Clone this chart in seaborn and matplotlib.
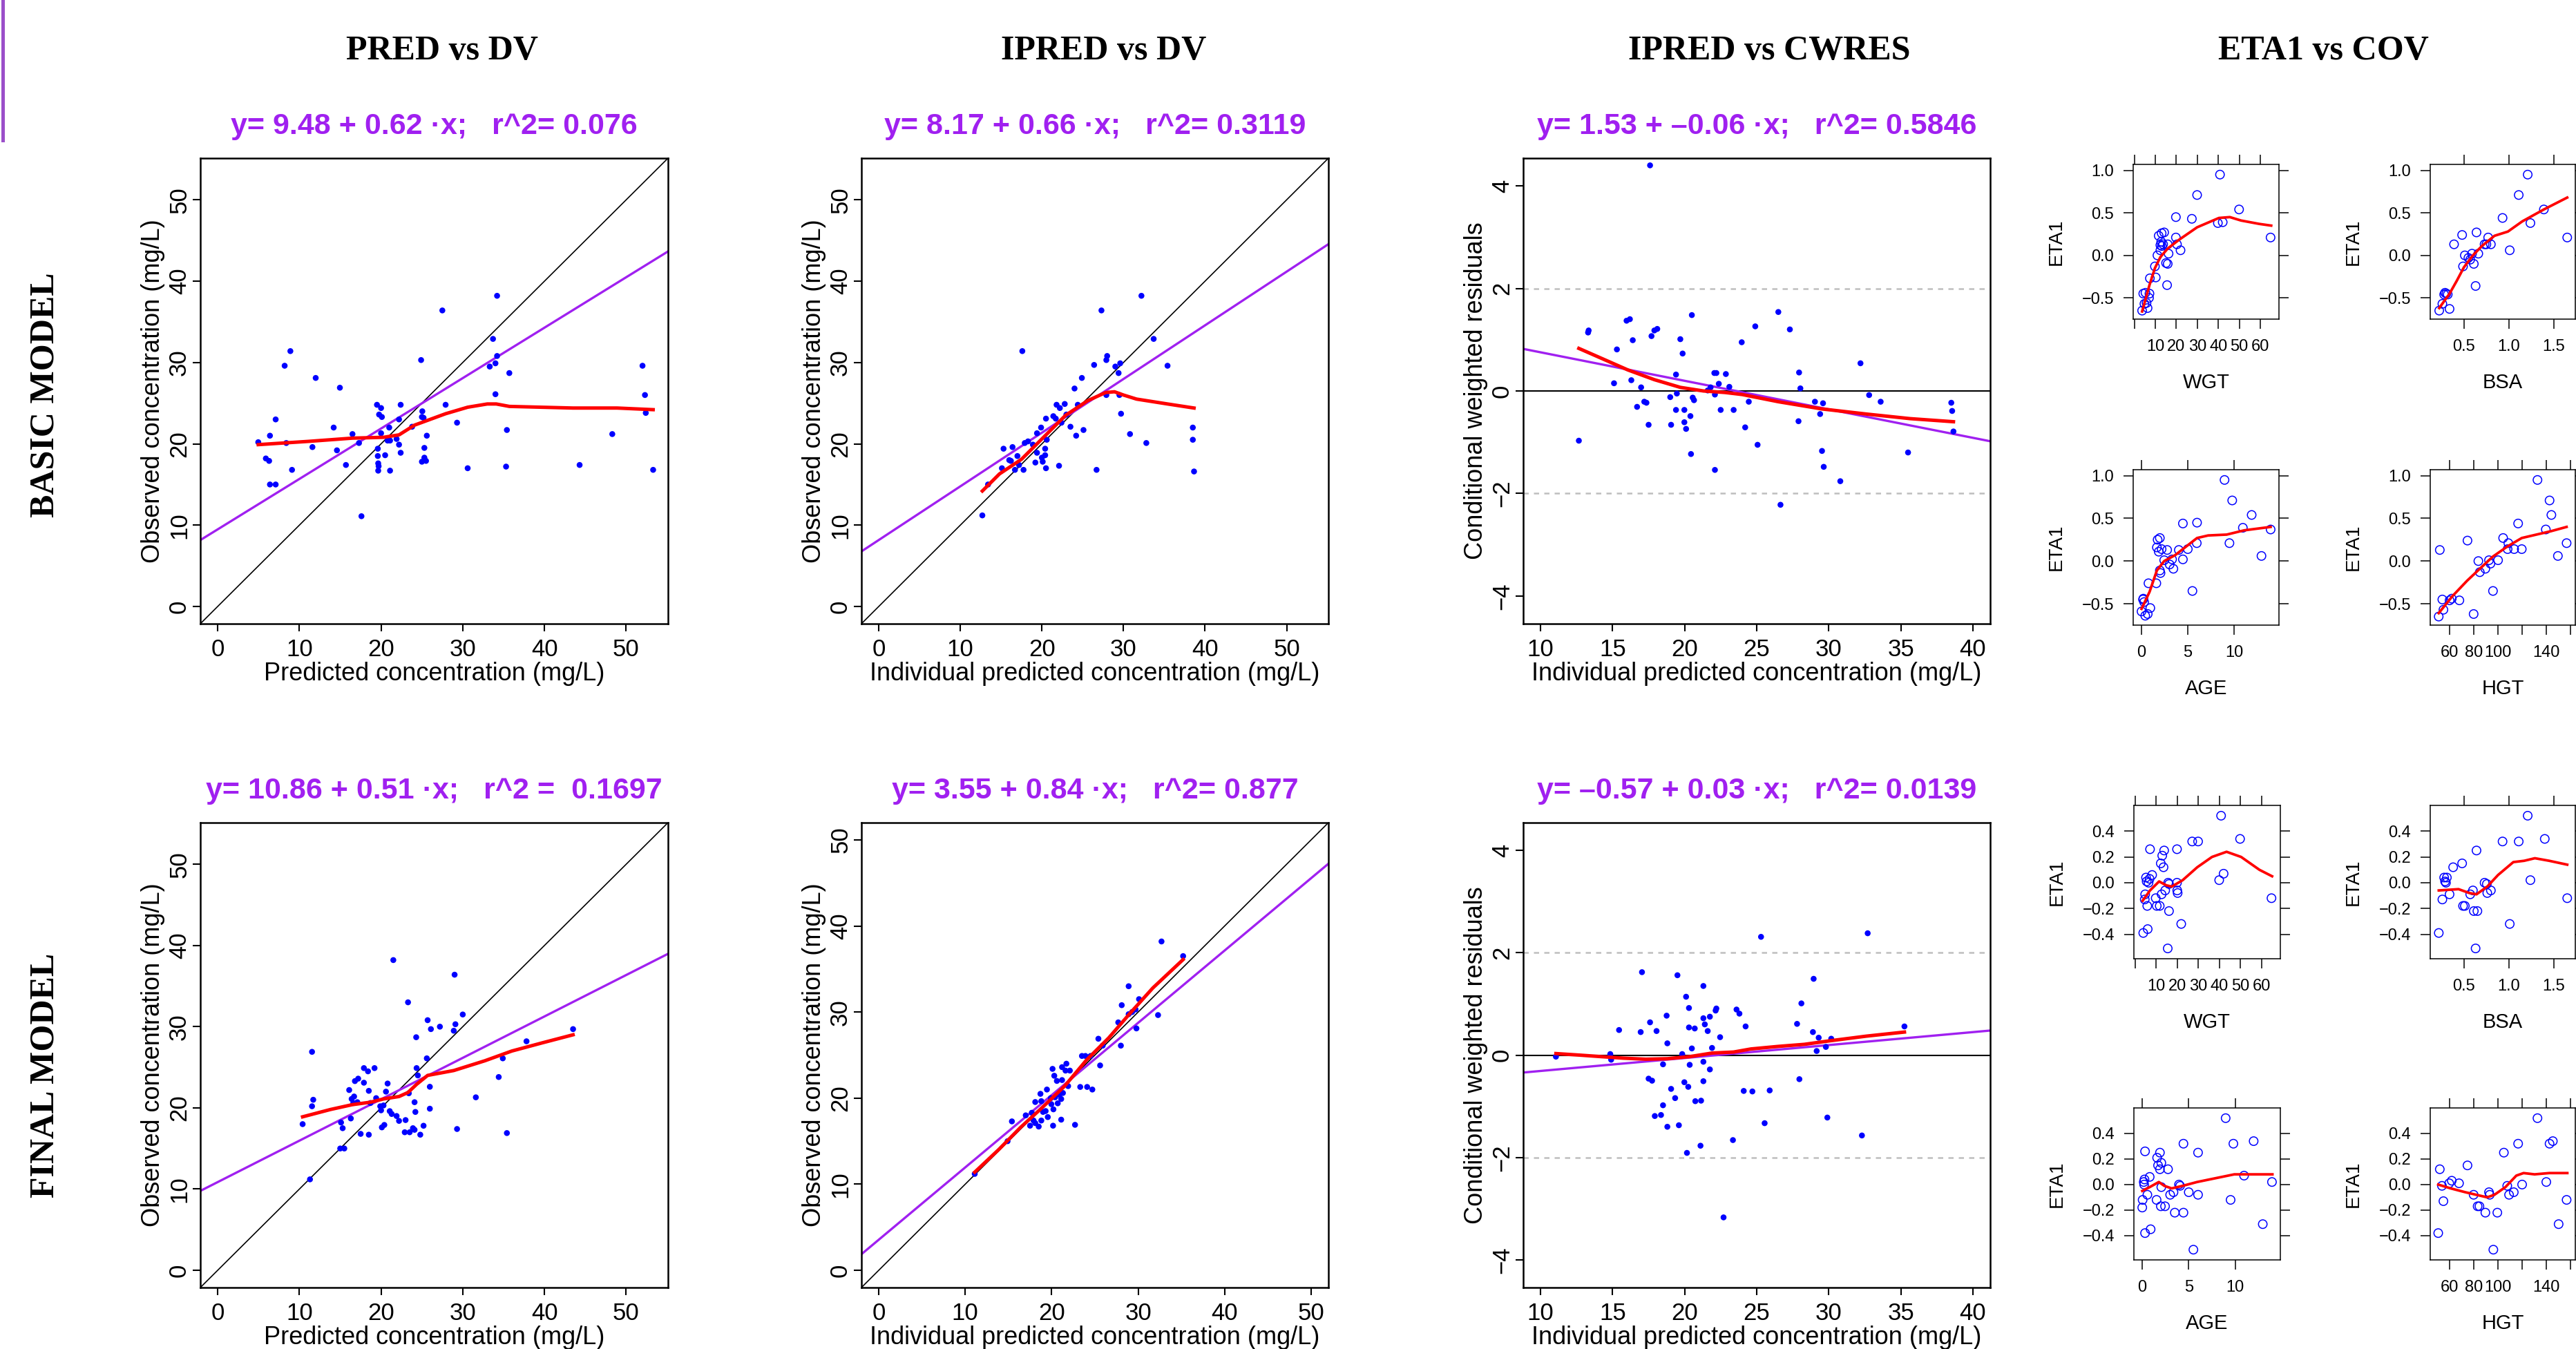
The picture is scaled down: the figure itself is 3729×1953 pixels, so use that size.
import matplotlib
matplotlib.use("Agg")
import matplotlib.pyplot as plt
from matplotlib.lines import Line2D
import seaborn as sns

# ---------------- DATA ----------------
col_titles = ["PRED vs DV", "IPRED vs DV", "IPRED vs CWRES", "ETA1 vs COV"]
row_titles = ["BASIC MODEL", "FINAL MODEL"]
subtitles = [
    "y= 9.48 + 0.62 \u00b7x;   r^2= 0.076",
    "y= 8.17 + 0.66 \u00b7x;   r^2= 0.3119",
    "y= 1.53 + \u20130.06 \u00b7x;   r^2= 0.5846",
    "y= 10.86 + 0.51 \u00b7x;   r^2 =  0.1697",
    "y= 3.55 + 0.84 \u00b7x;   r^2= 0.877",
    "y= \u20130.57 + 0.03 \u00b7x;   r^2= 0.0139",
]
# regression lines as drawn (intercept, slope)
reg_intercepts = [9.48, 8.17, 1.31, 10.86, 3.55, -0.563]
reg_slopes = [0.62, 0.66, -0.0556, 0.51, 0.84, 0.0253]

pred_dv_basic = [(4.97,20.2),(5.9,18.2),(6.3,17.9),(6.4,21.0),(6.4,15.0),(7.1,15.0),(7.1,23.0),(8.2,29.6),(8.4,20.1),(8.9,31.4),
    (9.1,16.8),(11.6,19.6),(12.0,28.1),(14.2,22.0),(14.6,19.2),(14.96,26.9),(15.7,17.4),(16.5,21.2),(17.3,20.1),(17.6,11.1),
    (19.5,24.8),(19.6,19.4),(19.6,18.5),(19.65,17.6),(19.7,17.25),(19.65,16.7),(19.76,23.6),(20.0,24.4),(20.1,23.3),(20.0,21.3),
    (20.5,18.6),(20.8,20.4),(21.0,22.0),(21.1,20.4),(21.1,16.7),(21.9,20.6),(22.2,23.0),(22.2,19.9),(22.4,24.8),(22.4,18.9),
    (23.8,22.1),(24.9,30.3),(25.05,24.0),(25.0,23.3),(25.2,23.2),(25.3,19.5),(25.3,18.3),(25.5,17.9),(25.0,17.8),(25.6,21.0),
    (27.5,36.4),(27.9,24.8),(29.3,22.6),(30.6,17.0),(33.3,29.5),(33.7,32.9),(34.0,29.9),(34.2,30.8),(34.2,38.2),(34.0,26.1),
    (35.4,21.7),(35.3,17.2),(35.7,28.7),(44.3,17.4),(48.3,21.2),(52.0,29.6),(52.3,26.0),(52.4,23.8),(53.3,16.8)]
pred_dv_basic_smooth = [(4.97,19.9),(11.1,20.3),(16.5,20.7),(20.3,20.8),(22.2,21.1),(24.1,22.3),(27.9,23.7),(30.6,24.5),
    (33.0,24.9),(34.1,24.9),(35.7,24.6),(43.5,24.4),(48.9,24.4),(53.3,24.2)]

ipred_dv_basic = [(12.7,11.2),(13.4,15.0),(15.1,17.0),(15.3,19.4),(16.0,18.0),(16.2,17.9),(16.4,19.6),(16.7,16.8),(17.0,18.5),(17.2,17.4),
    (17.6,31.4),(17.75,16.8),(17.9,20.1),(18.3,20.3),(18.9,19.9),(19.2,17.7),(19.4,21.3),(19.4,18.9),(19.9,22.0),(20.0,18.3),
    (20.1,17.8),(20.4,19.4),(20.4,18.6),(20.5,23.1),(20.5,17.0),(20.6,20.5),(21.4,23.4),(21.7,23.1),(21.8,24.8),(22.1,17.3),
    (22.2,24.4),(22.4,22.6),(22.8,24.9),(23.0,23.6),(23.5,22.1),(24.0,26.8),(24.2,21.0),(24.4,24.8),(24.9,28.1),(25.1,21.7),
    (26.4,29.7),(26.7,16.8),(27.3,36.4),(27.9,26.0),(27.9,30.3),(28.0,30.8),(29.0,29.5),(29.4,28.7),(29.5,26.0),(29.6,29.9),
    (29.7,23.7),(30.8,21.2),(32.2,38.2),(32.8,20.1),(33.7,32.9),(35.4,29.6),(38.5,22.0),(38.5,20.5),(38.65,16.6)]
ipred_dv_basic_smooth = [(12.7,14.2),(14.8,16.3),(17.5,18.1),(20.2,20.8),(22.9,23.5),(25.6,25.3),(27.8,26.3),(28.9,26.4),
    (30.0,26.0),(31.6,25.5),(35.4,24.9),(38.65,24.4)]

ipred_cwres_basic = [(17.6,4.40),(12.66,-0.97),(13.3,1.14),(13.34,1.18),(15.1,0.15),(15.3,0.81),(15.97,1.37),(16.2,1.40),(16.3,0.21),(16.4,0.99),
    (16.7,-0.31),(16.98,0.07),(17.2,-0.21),(17.35,-0.23),(17.5,-0.66),(17.7,1.07),(17.9,1.18),(18.1,1.21),(19.0,-0.12),(19.06,-0.66),
    (19.4,0.32),(19.4,-0.37),(19.46,-0.05),(19.7,1.01),(19.86,0.73),(19.98,-0.37),(19.98,-0.61),(20.1,-0.74),(20.4,-0.49),(20.44,-1.23),
    (20.5,1.48),(20.56,-0.13),(20.65,-0.18),(21.6,0.01),(21.8,0.07),(22.06,0.35),(22.1,-0.07),(22.1,-1.54),(22.2,0.35),(22.37,0.14),
    (22.5,-0.37),(22.86,0.33),(23.1,0.08),(23.4,-0.37),(23.96,0.95),(24.2,-0.71),(24.45,-0.21),(24.9,1.26),(25.06,-1.05),(26.5,1.54),
    (26.65,-2.22),(27.3,1.2),(27.9,-0.59),(27.94,0.36),(28.03,0.05),(29.04,-0.21),(29.4,-0.45),(29.53,-1.17),(29.6,-0.24),(29.65,-1.48),
    (30.8,-1.76),(32.2,0.54),(32.8,-0.08),(33.6,-0.21),(35.5,-1.20),(38.5,-0.23),(38.56,-0.39),(38.65,-0.79)]
ipred_cwres_basic_smooth = [(12.66,0.83),(14.2,0.64),(16.06,0.41),(17.9,0.22),(19.7,0.07),(21.3,0.0),(22.8,-0.03),(24.0,-0.07),
    (26.5,-0.21),(29.5,-0.35),(32.6,-0.45),(35.65,-0.54),(38.65,-0.60)]

pred_dv_final = [(10.4,18.0),(11.3,11.2),(11.55,26.9),(11.55,20.2),(11.7,21.0),(15.1,18.2),(15.3,17.5),(15.0,15.0),(15.5,15.0),(16.1,22.2),
    (16.3,18.7),(16.4,21.1),(16.6,20.6),(16.7,21.4),(16.8,23.3),(17.1,20.7),(17.2,23.6),(17.5,16.8),(17.9,24.9),(17.9,23.1),
    (18.4,24.5),(18.5,22.1),(18.5,16.7),(18.7,20.6),(19.2,24.9),(19.4,21.2),(19.9,20.2),(20.0,19.7),(20.1,17.6),(20.3,20.3),
    (20.4,17.9),(20.6,22.0),(20.8,23.0),(21.06,19.6),(21.3,19.25),(21.5,38.2),(21.9,19.0),(22.2,18.4),(23.0,18.5),(22.9,17.0),
    (23.3,33.0),(23.4,21.8),(23.5,17.0),(23.9,17.5),(24.1,20.7),(24.1,17.3),(24.2,19.5),(24.3,28.7),(24.35,24.9),(24.5,24.0),
    (24.8,16.7),(25.2,17.8),(25.6,26.1),(25.7,30.8),(25.97,22.6),(25.97,19.9),(26.1,29.7),(27.2,30.0),(28.9,29.5),(29.1,30.3),
    (29.0,36.4),(29.3,17.4),(30.0,31.5),(31.6,21.3),(34.4,23.8),(34.9,26.1),(35.4,16.9),(37.8,28.2),(43.5,29.7)]
pred_dv_final_smooth = [(10.4,18.9),(13.8,19.8),(16.5,20.4),(18.7,20.7),(20.3,21.1),(22.2,21.4),(23.3,21.9),(24.35,22.9),
    (25.7,24.0),(27.3,24.3),(28.9,24.6),(32.7,25.8),(36.0,27.0),(39.7,28.0),(43.5,29.0)]

ipred_dv_final = [(11.1,11.2),(14.9,15.0),(15.4,17.3),(17.0,18.0),(17.5,16.8),(17.7,18.3),(17.9,17.4),(18.1,19.55),(18.1,17.1),(18.5,16.7),
    (18.7,20.5),(18.8,19.65),(18.8,17.4),(19.0,18.4),(19.3,18.5),(19.45,21.0),(19.55,17.8),(19.9,20.0),(19.96,19.3),(20.1,23.4),
    (20.16,16.8),(20.2,18.7),(20.3,22.6),(20.4,20.1),(20.6,22.0),(20.7,19.4),(20.9,20.4),(21.1,19.9),(21.1,17.5),(21.2,22.1),
    (21.2,23.6),(21.3,20.6),(21.6,23.2),(21.7,24.0),(21.9,21.4),(22.1,23.2),(22.7,16.9),(23.3,21.3),(23.5,24.9),(23.9,24.9),
    (24.1,21.3),(24.5,24.9),(24.7,21.0),(25.4,26.9),(25.6,23.8),(25.9,26.1),(27.7,28.8),(28.0,26.1),(28.1,30.8),(28.9,29.75),
    (28.9,33.0),(29.3,30.0),(29.7,30.3),(29.8,28.1),(30.1,31.5),(32.3,29.65),(32.7,38.2),(35.2,36.5)]
ipred_dv_final_smooth = [(11.1,11.4),(13.85,14.0),(16.4,16.6),(18.9,18.9),(21.5,21.4),(24.0,24.4),(26.6,27.0),(29.1,29.9),
    (31.7,32.8),(35.2,36.1)]

ipred_cwres_final = [(11.07,-0.03),(14.84,0.02),(14.9,-0.09),(15.45,0.49),(16.95,0.45),(17.04,1.62),(17.5,-0.46),(17.6,0.64),(17.74,-0.50),(17.93,-1.19),
    (18.05,0.47),(18.36,-1.17),(18.5,-0.18),(18.5,-0.98),(18.75,0.77),(18.8,0.23),(18.8,-1.40),(19.06,-0.66),(19.34,-0.84),(19.5,1.56),
    (19.6,-1.37),(19.83,0.02),(19.98,-0.53),(20.1,1.14),(20.16,-1.91),(20.25,-0.62),(20.3,0.92),(20.3,0.54),(20.35,-0.19),(20.5,0.13),
    (20.7,0.52),(20.74,-0.90),(21.14,-0.89),(21.1,-1.77),(21.3,1.35),(21.3,0.72),(21.3,-0.13),(21.3,-0.51),(21.4,0.60),(21.6,0.47),
    (21.75,0.75),(21.75,-0.28),(21.9,0.14),(22.15,0.87),(22.2,0.91),(22.46,0.35),(22.7,-3.17),(23.35,-1.66),(23.6,0.89),(23.8,0.81),
    (24.1,-0.70),(24.23,0.56),(24.7,-0.71),(25.3,2.31),(25.55,-1.33),(25.9,-0.69),(27.8,0.61),(27.96,-0.47),(28.1,1.01),(28.9,0.45),
    (28.95,1.49),(29.16,0.08),(29.3,0.34),(29.8,0.16),(29.9,-1.22),(30.17,0.32),(32.3,-1.57),(32.7,2.38),(35.25,0.56)]
ipred_cwres_final_smooth = [(11.07,0.03),(12.7,0.0),(14.2,-0.03),(15.75,-0.06),(17.3,-0.08),(18.8,-0.07),(20.35,-0.03),(21.9,0.04),
    (23.4,0.06),(24.6,0.12),(26.5,0.17),(28.3,0.21),(30.1,0.28),(32.6,0.37),(35.25,0.45)]

# ETA1 vs covariates, basic model
eta_wgt_basic = [(3.7,-0.65),(4.8,-0.57),(4.25,-0.45),(5.3,-0.44),(5.8,-0.56),(6.3,-0.62),(7.0,-0.50),(7.2,-0.45),(7.4,-0.27),(9.8,-0.13),
    (10.2,-0.26),(11.0,0.0),(11.6,0.23),(12.4,0.12),(12.8,0.16),(13.0,0.26),(13.1,0.11),(13.7,0.13),(14.2,0.27),(15.1,-0.09),
    (15.6,-0.35),(15.9,0.13),(15.9,-0.10),(16.3,0.02),(12.4,0.06),(19.8,0.45),(19.8,0.21),(20.3,0.13),(22.0,0.06),(27.4,0.43),
    (29.9,0.71),(39.8,0.38),(40.8,0.95),(42.1,0.39),(49.9,0.54),(64.9,0.21)]
eta_wgt_basic_smooth = [(3.7,-0.66),(7.2,-0.35),(9.8,-0.15),(12.4,-0.02),(15.9,0.08),(21.1,0.18),(29.9,0.33),(40.3,0.44),
    (45.5,0.45),(50.8,0.41),(59.5,0.37),(65.2,0.35)]
eta_bsa_basic = [(0.225,-0.65),(0.26,-0.57),(0.28,-0.46),(0.29,-0.44),(0.305,-0.45),(0.32,-0.46),(0.34,-0.63),(0.39,0.13),(0.48,0.24),(0.49,-0.13),
    (0.51,0.0),(0.55,-0.03),(0.57,-0.05),(0.59,0.02),(0.61,-0.10),(0.63,-0.36),(0.64,0.27),(0.66,0.02),(0.73,0.13),(0.75,0.13),
    (0.77,0.21),(0.80,0.13),(0.93,0.44),(1.01,0.06),(1.11,0.71),(1.21,0.95),(1.24,0.38),(1.39,0.54),(1.65,0.21)]
eta_bsa_basic_smooth = [(0.225,-0.62),(0.34,-0.45),(0.42,-0.30),(0.50,-0.14),(0.60,0.0),(0.70,0.11),(0.84,0.23),(0.99,0.28),
    (1.15,0.40),(1.39,0.54),(1.65,0.68)]
eta_age_basic = [(0.0,-0.59),(0.16,-0.45),(0.28,-0.48),(0.4,-0.64),(0.2,-0.44),(0.67,-0.62),(0.75,-0.26),(0.95,-0.55),(1.6,-0.26),(1.66,0.16),
    (1.74,0.25),(1.86,0.11),(1.98,0.27),(1.98,-0.11),(2.05,-0.14),(2.17,0.14),(2.45,0.01),(2.77,0.13),(3.04,-0.04),(3.44,-0.09),
    (3.3,0.02),(4.03,0.13),(4.47,0.44),(4.47,0.02),(5.0,0.14),(5.5,-0.35),(5.97,0.21),(6.0,0.45),(8.97,0.95),(9.5,0.21),
    (9.8,0.71),(10.95,0.39),(11.9,0.54),(12.96,0.06),(13.95,0.37)]
eta_age_basic_smooth = [(0.0,-0.56),(0.87,-0.36),(1.66,-0.11),(2.45,0.0),(3.64,0.07),(4.82,0.17),(6.0,0.27),(7.2,0.30),
    (9.2,0.31),(11.1,0.36),(13.95,0.40)]
eta_hgt_basic = [(51,-0.65),(51.9,0.13),(54,-0.45),(54.9,-0.57),(60,-0.46),(61.8,-0.44),(68.1,-0.46),(74.8,0.24),(79.9,-0.62),(83.8,0.0),
    (85,-0.13),(89.6,-0.09),(92.6,0.01),(93.8,-0.03),(95.9,-0.35),(100.1,0.01),(104.3,0.27),(108.6,0.21),(108,0.14),(113.4,0.14),
    (116.7,0.44),(119.7,0.14),(132.7,0.95),(139.6,0.37),(142.7,0.71),(144.2,0.54),(149.6,0.06),(156.8,0.21)]
eta_hgt_basic_smooth = [(51,-0.61),(62.4,-0.41),(74.5,-0.23),(83.5,-0.11),(95.6,0.05),(107.7,0.17),(119.7,0.27),(131.8,0.31),
    (143.9,0.35),(156.8,0.40)]

# ETA1 vs covariates, final model
eta_wgt_final = [(3.9,-0.39),(6.0,-0.36),(4.6,-0.13),(4.8,-0.09),(5.2,0.04),(5.5,0.01),(5.8,-0.18),(6.4,0.0),(6.9,0.03),(7.1,0.26),
    (8.1,0.06),(9.8,-0.12),(10.3,-0.18),(11.7,-0.18),(12.2,0.15),(12.6,-0.09),(12.9,0.21),(13.5,0.12),(13.8,0.25),(14.3,-0.06),
    (15.5,-0.51),(15.7,0.0),(16.1,-0.22),(16.1,-0.01),(19.9,0.26),(19.9,0.0),(20.0,-0.06),(20.2,-0.08),(21.9,-0.32),(27.1,0.32),
    (29.9,0.32),(39.9,0.02),(40.8,0.52),(42.0,0.07),(49.8,0.34),(64.7,-0.12)]
eta_wgt_final_smooth = [(3.6,-0.14),(7.1,-0.06),(11.4,0.01),(14.8,-0.02),(17.4,-0.03),(22.6,0.02),(29.5,0.12),(36.5,0.20),
    (43.4,0.24),(50.3,0.20),(59.0,0.10),(65.0,0.05)]
eta_bsa_final = [(0.22,-0.39),(0.26,-0.13),(0.28,0.04),(0.29,0.01),(0.30,0.0),(0.31,0.04),(0.34,-0.09),(0.38,0.12),(0.48,0.15),(0.49,-0.18),
    (0.51,-0.18),(0.57,-0.09),(0.60,-0.06),(0.61,-0.22),(0.63,-0.51),(0.64,0.25),(0.65,-0.22),(0.73,0.0),(0.755,-0.01),(0.76,-0.08),
    (0.80,-0.06),(0.93,0.32),(1.01,-0.32),(1.11,0.32),(1.21,0.52),(1.24,0.02),(1.40,0.34),(1.65,-0.12)]
eta_bsa_final_smooth = [(0.22,-0.06),(0.44,-0.05),(0.56,-0.08),(0.64,-0.09),(0.76,-0.03),(0.88,0.06),(1.05,0.16),(1.17,0.17),
    (1.29,0.19),(1.45,0.17),(1.65,0.14)]
eta_age_final = [(0.0,-0.18),(0.04,-0.12),(0.16,0.02),(0.2,0.0),(0.24,0.04),(0.3,0.26),(0.3,-0.38),(0.55,-0.08),(0.8,0.06),(0.9,-0.35),
    (1.54,-0.12),(1.6,0.21),(1.7,0.15),(1.9,0.25),(1.9,0.12),(2.0,-0.17),(2.05,-0.02),(2.05,0.17),(2.45,-0.17),(2.77,0.12),
    (3.0,-0.08),(3.36,-0.06),(3.5,-0.22),(3.95,0.0),(4.07,-0.01),(4.43,0.32),(4.43,-0.22),(5.0,-0.06),(5.5,-0.51),(6.0,0.25),
    (6.0,-0.08),(8.97,0.52),(9.5,-0.12),(9.8,0.32),(10.95,0.07),(11.98,0.34),(12.96,-0.31),(13.95,0.02)]
eta_age_final_smooth = [(0.0,-0.05),(0.8,-0.02),(1.78,0.02),(2.37,-0.01),(3.16,-0.03),(4.35,-0.01),(5.9,0.02),(7.9,0.05),
    (9.9,0.08),(11.86,0.08),(14.0,0.08)]
eta_hgt_final = [(50.6,-0.38),(51.9,0.12),(53.7,-0.01),(54.9,-0.13),(59.7,0.01),(61.8,0.03),(67.8,0.01),(74.8,0.15),(79.9,-0.08),(83.2,-0.17),
    (84.7,-0.17),(89.6,-0.22),(92.6,-0.06),(93.2,-0.08),(96.2,-0.51),(99.5,-0.22),(104.9,0.25),(107.7,-0.01),(109.2,-0.08),(113.1,-0.06),
    (116.7,0.32),(120,0.0),(132.7,0.52),(140,0.02),(142.7,0.32),(145.4,0.34),(150.2,-0.31),(156.8,-0.12)]
eta_hgt_final_smooth = [(50.6,0.0),(60.9,-0.03),(73.0,-0.06),(82.0,-0.08),(91.1,-0.10),(97.1,-0.08),(106.2,-0.02),(115.2,0.07),
    (121.2,0.09),(130.3,0.08),(142.4,0.09),(157.4,0.09)]

# ---------------- STYLE ----------------
plt.rcParams["font.family"] = ["Liberation Sans", "DejaVu Sans"]
plt.rcParams["axes.unicode_minus"] = True
SERIF = ["Liberation Serif", "DejaVu Serif"]
BLUE, RED, PURPLE, GREY = "#0000FF", "#FF0000", "#A020F0", "#BEBEBE"

W, H = 3729, 1953
fig = plt.figure(figsize=(W / 100, H / 100), dpi=100)


def px_axes(l, t, r, b):
    return fig.add_axes([l / W, 1 - b / H, (r - l) / W, (b - t) / H])


def split(pairs):
    return [p[0] for p in pairs], [p[1] for p in pairs]


def main_panel(box, pts, smooth, k, lim_x, lim_y, xt, yt, xlabel, ylabel, identity, resid):
    ax = px_axes(*box)
    if resid:
        for v in (-2, 2):
            ax.axhline(v, color=GREY, ls=(0, (3, 3)), lw=1.8, zorder=1)
        ax.axhline(0, color="black", lw=1.5, zorder=1)
    if identity:
        ax.axline((0, 0), slope=1, color="black", lw=1.2, zorder=1)
    ax.axline((0, reg_intercepts[k]), slope=reg_slopes[k], color=PURPLE, lw=2.4, zorder=2)
    x, y = split(pts)
    sns.scatterplot(x=x, y=y, ax=ax, color=BLUE, s=38, edgecolor="none", linewidth=0, zorder=3)
    sx, sy = split(smooth)
    sns.lineplot(x=sx, y=sy, ax=ax, color=RED, lw=3.6, sort=False, estimator=None, zorder=4)
    ax.set_xlim(*lim_x)
    ax.set_ylim(*lim_y)
    ax.set_xticks(xt)
    ax.set_yticks(yt)
    ax.tick_params(direction="out", length=8, width=1.5, labelsize=25, colors="black")
    ax.tick_params(axis="x", pad=7)
    ax.tick_params(axis="y", pad=2, labelrotation=90)
    for lab in ax.get_yticklabels():
        lab.set_va("center")
    ax.set_xlabel(xlabel, fontsize=26, labelpad=0.5)
    ax.set_ylabel(ylabel, fontsize=26, labelpad=3)
    for s in ax.spines.values():
        s.set_linewidth(1.8)
        s.set_color("black")
    cx = (box[0] + box[2]) / 2
    cy = box[1] - 46
    fig.text(cx / W, 1 - cy / H, subtitles[k], color=PURPLE, fontsize=31,
             fontweight="bold", ha="center", va="center")
    return ax


def eta_panel(box, pts, smooth, lim_x, lim_y, xt, xtl, yt, ytl, xlabel):
    ax = px_axes(*box)
    x, y = split(pts)
    sns.scatterplot(x=x, y=y, ax=ax, s=80, fc="none", ec=BLUE, linewidth=1.1, zorder=3)
    sx, sy = split(smooth)
    sns.lineplot(x=sx, y=sy, ax=ax, color=RED, lw=2.7, sort=False, estimator=None, zorder=4)
    ax.set_xlim(*lim_x)
    ax.set_ylim(*lim_y)
    ax.set_xticks(xt)
    ax.set_xticklabels(xtl)
    ax.set_yticks(yt)
    ax.set_yticklabels(ytl)
    ax.tick_params(direction="out", length=10, width=1.1, labelsize=17,
                   top=True, right=True, labeltop=False, labelright=False, colors="black")
    ax.tick_params(axis="x", pad=11)
    ax.tick_params(axis="y", pad=10)
    ax.set_xlabel(xlabel, fontsize=21, labelpad=19)
    ax.set_ylabel("ETA1", fontsize=20, labelpad=17)
    for s in ax.spines.values():
        s.set_linewidth(1.1)
        s.set_color("black")
    return ax


# ---------------- MAIN PANELS ----------------
conc_ticks = [0, 10, 20, 30, 40, 50]
res_xt = [10, 15, 20, 25, 30, 35, 40]
res_yt = [-4, -2, 0, 2, 4]
rows = [(229, 903), (1191, 1864)]
cols = [(290, 967), (1247, 1923), (2205, 2881)]
obs_lab = "Observed concentration (mg/L)"
pred_lab = "Predicted concentration (mg/L)"
ipred_lab = "Individual predicted concentration (mg/L)"
cw_lab = "Conditional weighted residuals"

sets = [
    [(pred_dv_basic, pred_dv_basic_smooth), (ipred_dv_basic, ipred_dv_basic_smooth), (ipred_cwres_basic, ipred_cwres_basic_smooth)],
    [(pred_dv_final, pred_dv_final_smooth), (ipred_dv_final, ipred_dv_final_smooth), (ipred_cwres_final, ipred_cwres_final_smooth)],
]
lims = [[(-2.12, 55.12), (-2.12, 55.12)], [(-2.12, 55.12), (-2.0, 52.0)]]
for r, (t, b) in enumerate(rows):
    for c, (l, rr) in enumerate(cols):
        pts, sm = sets[r][c]
        k = r * 3 + c
        box = (l, t, rr, b)
        if c < 2:
            lm = lims[r][c]
            main_panel(box, pts, sm, k, lm, lm, conc_ticks, conc_ticks,
                       pred_lab if c == 0 else ipred_lab, obs_lab, True, False)
        else:
            main_panel(box, pts, sm, k, (8.8, 41.2), (-4.54, 4.54), res_xt, res_yt,
                       ipred_lab, cw_lab, False, True)

# ---------------- ETA PANELS ----------------
wgt_t = [0, 10, 20, 30, 40, 50, 60]
wgt_l = ["", "10", "20", "30", "40", "50", "60"]
bsa_t = [0.5, 1.0, 1.5]
bsa_l = ["0.5", "1.0", "1.5"]
age_t = [0, 5, 10]
age_l = ["0", "5", "10"]
hgt_t = [60, 80, 100, 120, 140, 160]
hgt_l = ["60", "80", "100", "", "140", ""]
yb_t = [-0.5, 0.0, 0.5, 1.0]
yb_l = ["\u22120.5", "0.0", "0.5", "1.0"]
yf_t = [-0.4, -0.2, 0.0, 0.2, 0.4]
yf_l = ["\u22120.4", "\u22120.2", "0.0", "0.2", "0.4"]
lim_b = (-0.75, 1.07)
lim_f = (-0.59, 0.60)

eta_panel((3088, 238, 3299, 462), eta_wgt_basic, eta_wgt_basic_smooth, (-0.55, 68.9), lim_b, wgt_t, wgt_l, yb_t, yb_l, "WGT")
eta_panel((3518, 238, 3728, 462), eta_bsa_basic, eta_bsa_basic_smooth, (0.125, 1.74), lim_b, bsa_t, bsa_l, yb_t, yb_l, "BSA")
eta_panel((3088, 680, 3299, 905), eta_age_basic, eta_age_basic_smooth, (-0.9, 14.85), lim_b, age_t, age_l, yb_t, yb_l, "AGE")
eta_panel((3518, 680, 3728, 905), eta_hgt_basic, eta_hgt_basic_smooth, (44, 164), lim_b, hgt_t, hgt_l, yb_t, yb_l, "HGT")
eta_panel((3089, 1166, 3301, 1388), eta_wgt_final, eta_wgt_final_smooth, (-0.55, 68.9), lim_f, wgt_t, wgt_l, yf_t, yf_l, "WGT")
eta_panel((3518, 1166, 3728, 1388), eta_bsa_final, eta_bsa_final_smooth, (0.125, 1.74), lim_f, bsa_t, bsa_l, yf_t, yf_l, "BSA")
eta_panel((3089, 1604, 3301, 1824), eta_age_final, eta_age_final_smooth, (-0.9, 14.85), lim_f, age_t, age_l, yf_t, yf_l, "AGE")
eta_panel((3518, 1604, 3728, 1824), eta_hgt_final, eta_hgt_final_smooth, (44, 164), lim_f, hgt_t, hgt_l, yf_t, yf_l, "HGT")

# ---------------- TITLES ----------------
for name, cx in zip(col_titles, [640, 1598, 2561, 3363]):
    fig.text(cx / W, 1 - 74 / H, name, family=SERIF, fontweight="bold", fontsize=36, ha="center", va="center")
for name, cy in zip(row_titles, [572, 1557]):
    fig.text(66 / W, 1 - cy / H, name, family=SERIF, fontweight="bold", fontsize=36,
             ha="center", va="center", rotation=90)

# slide-edge accent line in the top-left corner
fig.add_artist(Line2D([4 / W, 4 / W], [1.0, 1 - 203 / H], transform=fig.transFigure,
                      color="#9B4FC9", lw=3.6))

fig.savefig("out.png", dpi=100)
